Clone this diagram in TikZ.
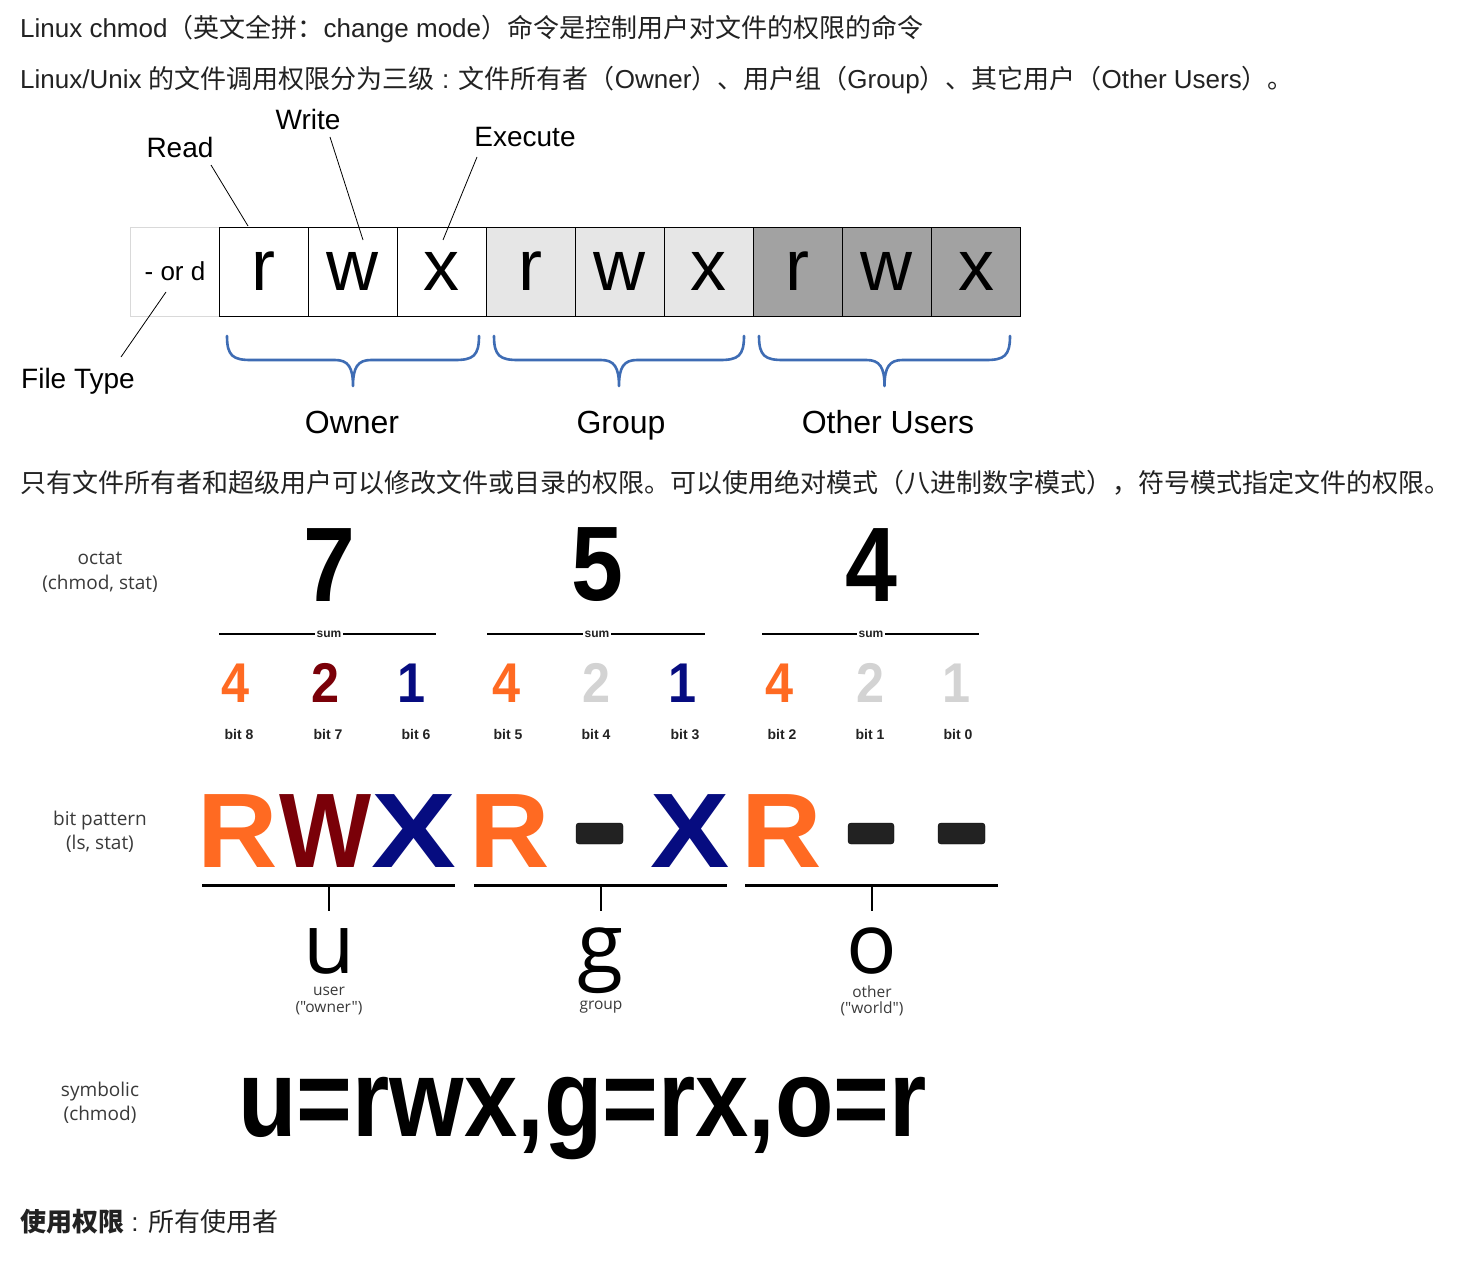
\documentclass[tikz,border=0pt]{standalone}
\usepackage{fontspec}
\setmainfont{Liberation Sans}
\newfontfamily\cjk{Noto Sans CJK SC}
\newfontfamily\osans{Open Sans}
\definecolor{orng}{HTML}{FF6A22}
\definecolor{dred}{HTML}{7A0008}
\definecolor{navyb}{HTML}{060C80}
\definecolor{lgr}{HTML}{D3D3D3}
\definecolor{bracec}{HTML}{3E6CB4}
\definecolor{gcell}{HTML}{E6E6E6}
\definecolor{ocell}{HTML}{A2A2A2}
\definecolor{txt}{HTML}{222222}
\definecolor{lab}{HTML}{3A3A3A}
\tikzset{
  bodytext/.style={anchor=base west,inner sep=0,font=\fontsize{26}{30}\selectfont,text=txt},
  cellbox/.style={draw=black,line width=0.8pt,minimum width=89pt,minimum height=89pt,inner sep=0,font=\fontsize{72}{72}\selectfont},
  dlabel/.style={inner sep=0,font=\fontsize{28}{30}\selectfont},
  glabel/.style={anchor=base,inner sep=0,font=\fontsize{32}{34}\selectfont},
  pointer/.style={line width=0.8pt,black},
  bracestyle/.style={line width=2.6pt,bracec,line cap=round,line join=round},
  sidelab/.style={align=center,inner sep=0,text=lab,font=\osans\fontsize{19}{24.5}\selectfont},
  bigdigit/.style={inner sep=0,font=\bfseries\fontsize{106}{106}\selectfont},
  smalldigit/.style={inner sep=0,font=\bfseries\fontsize{56}{56}\selectfont},
  bitlab/.style={anchor=base,inner sep=0,text=txt,font=\bfseries\fontsize{14}{14}\selectfont},
  sumlab/.style={inner sep=1.5pt,text=txt,font=\bfseries\fontsize{12}{12}\selectfont},
  sumline/.style={line width=2.6pt,black},
  patt/.style={inner sep=0,font=\bfseries\fontsize{106}{106}\selectfont},
  dashbox/.style={fill=txt,rounded corners=3pt},
  ulabel/.style={anchor=base,inner sep=0,text depth=0pt,font=\osans\fontsize{84}{84}\selectfont},
  sublab/.style={align=center,inner sep=0,text=lab,font=\osans\fontsize{15.5}{16.5}\selectfont},
}
\newcommand{\mybrace}[2]{%
  \pgfmathsetmacro{\bm}{(#1+#2)/2}%
  \draw[bracestyle] (#1,336) .. controls (#1,356) and ({#1+6},360) .. ({#1+24},360)
    -- ({\bm-18},360) .. controls ({\bm-5},360) and (\bm,367) .. (\bm,386)
    .. controls (\bm,367) and ({\bm+5},360) .. ({\bm+18},360)
    -- ({#2-24},360) .. controls ({#2-6},360) and (#2,356) .. (#2,336);}
\begin{document}
\begin{tikzpicture}[x=1pt,y=-1pt]
\useasboundingbox[fill=white] (0,0) rectangle (1470,1268);

% top text lines
\node[bodytext] (l1) at (20,38) {Linux chmod{\cjk （英文全拼：}change mode{\cjk ）命令是控制用户对文件的权限的命令}};
\node[bodytext] (l2) at (20,89) {Linux/Unix {\cjk 的文件调用权限分为三级} : {\cjk 文件所有者（}Owner{\cjk ）、用户组（}Group{\cjk ）、其它用户（}Other Users{\cjk ）。}};

% permission cells
\node[cellbox,draw=black!15,font=\fontsize{26}{26}\selectfont] (ft) at (175,271.5) {- or d};
\node[cellbox] (c1) at (263.5,271.5) {r};
\node[cellbox] (c2) at (352.5,271.5) {w};
\node[cellbox] (c3) at (441.5,271.5) {x};
\node[cellbox,fill=gcell] (c4) at (530.5,271.5) {r};
\node[cellbox,fill=gcell] (c5) at (619.5,271.5) {w};
\node[cellbox,fill=gcell] (c6) at (708.5,271.5) {x};
\node[cellbox,fill=ocell] (c7) at (797.5,271.5) {r};
\node[cellbox,fill=ocell] (c8) at (886.5,271.5) {w};
\node[cellbox,fill=ocell] (c9) at (976,271.5) {x};

% labels and pointers
\node[dlabel] (read) at (180,147) {Read};
\node[dlabel] (write) at (308,119) {Write};
\node[dlabel] (exec) at (525,137) {Execute};
\node[dlabel,anchor=base] (ftype) at (78,388) {File Type};
\coordinate (pr1) at (211,165); \coordinate (pr2) at (248,226);
\coordinate (pw1) at (330,137); \coordinate (pw2) at (363,240);
\coordinate (pe1) at (477,157); \coordinate (pe2) at (443,240);
\coordinate (pf1) at (166,292); \coordinate (pf2) at (121,357);
\draw[pointer] (pr1) -- (pr2);
\draw[pointer] (pw1) -- (pw2);
\draw[pointer] (pe1) -- (pe2);
\draw[pointer] (pf1) -- (pf2);

% braces
\mybrace{227}{479}
\mybrace{494}{744}
\mybrace{759}{1010}
\node[glabel] (own) at (352,433) {Owner};
\node[glabel] (grp) at (621,433) {Group};
\node[glabel] (oth) at (888,433) {Other Users};

% middle text
\node[bodytext] (l3) at (20,492) {{\cjk 只有文件所有者和超级用户可以修改文件或目录的权限。可以使用绝对模式（八进制数字模式），符号模式指定文件的权限。}};

% octal section
\node[sidelab] (oct) at (100,572) {octat\\(chmod, stat)};
\node[bigdigit] (d7) at (329,565) {\scalebox{0.88}[1]{7}};
\node[bigdigit] (d5) at (597,565) {\scalebox{0.88}[1]{5}};
\node[bigdigit] (d4) at (871,565) {\scalebox{0.88}[1]{4}};

\node[sumlab] (s1) at (329,634) {sum};
\node[sumlab] (s2) at (597,634) {sum};
\node[sumlab] (s3) at (871,634) {sum};
\coordinate (s1a) at (219,634); \coordinate (s1b) at (436,634);
\coordinate (s2a) at (487,634); \coordinate (s2b) at (705,634);
\coordinate (s3a) at (762,634); \coordinate (s3b) at (979,634);
\draw[sumline] (s1a) -- (s1.west); \draw[sumline] (s1.east) -- (s1b);
\draw[sumline] (s2a) -- (s2.west); \draw[sumline] (s2.east) -- (s2b);
\draw[sumline] (s3a) -- (s3.west); \draw[sumline] (s3.east) -- (s3b);

\node[smalldigit,text=orng] (b8) at (236,683) {\scalebox{0.9}[1]{4}};
\node[smalldigit,text=dred] (b7) at (326,683) {\scalebox{0.9}[1]{2}};
\node[smalldigit,text=navyb] (b6) at (412,683) {\scalebox{0.9}[1]{1}};
\node[smalldigit,text=orng] (b5) at (507,683) {\scalebox{0.9}[1]{4}};
\node[smalldigit,text=lgr] (b4) at (597,683) {\scalebox{0.9}[1]{2}};
\node[smalldigit,text=navyb] (b3) at (683,683) {\scalebox{0.9}[1]{1}};
\node[smalldigit,text=orng] (b2) at (780,683) {\scalebox{0.9}[1]{4}};
\node[smalldigit,text=lgr] (b1) at (871,683) {\scalebox{0.9}[1]{2}};
\node[smalldigit,text=lgr] (b0) at (957,683) {\scalebox{0.9}[1]{1}};

\node[bitlab] (t8) at (239,739) {bit 8};
\node[bitlab] (t7) at (328,739) {bit 7};
\node[bitlab] (t6) at (416,739) {bit 6};
\node[bitlab] (t5) at (508,739) {bit 5};
\node[bitlab] (t4) at (596,739) {bit 4};
\node[bitlab] (t3) at (685,739) {bit 3};
\node[bitlab] (t2) at (782,739) {bit 2};
\node[bitlab] (t1) at (870,739) {bit 1};
\node[bitlab] (t0) at (958,739) {bit 0};

% bit pattern section
\node[sidelab] (bp) at (100,832) {bit pattern\\(ls, stat)};
\node[patt,text=orng] (pR1) at (238,831) {\scalebox{1.05}[1]{R}};
\node[patt,text=dred] (pW1) at (326,831) {\scalebox{0.92}[1]{W}};
\node[patt,text=navyb] (pX1) at (414,831) {\scalebox{1.2}[1]{X}};
\node[patt,text=orng] (pR2) at (510,831) {\scalebox{1.05}[1]{R}};
\filldraw[dashbox] (576,823) rectangle (623,844);
\node[patt,text=navyb] (pX2) at (690,831) {\scalebox{1.12}[1]{X}};
\node[patt,text=orng] (pR3) at (782,831) {\scalebox{1.05}[1]{R}};
\filldraw[dashbox] (848,823) rectangle (894,844);
\filldraw[dashbox] (938,823) rectangle (985,844);

\draw[line width=3pt] (202,885) -- (455,885);
\draw[line width=3pt] (474,885) -- (727,885);
\draw[line width=3pt] (745,885) -- (998,885);
\node[ulabel] (uu) at (329,973) {u};
\node[ulabel] (gg) at (601,973) {g};
\node[ulabel] (oo) at (872,973) {o};
\coordinate (k1) at (329,885); \coordinate (k2) at (601,885); \coordinate (k3) at (872,885);
\draw[line width=2pt] (k1) -- (329,911);
\draw[line width=2pt] (k2) -- (601,911);
\draw[line width=2pt] (k3) -- (872,911);
\node[sublab] (su) at (329,1001) {user\\("owner")};
\node[sublab] (sg) at (601,1007) {group};
\node[sublab] (so) at (872,1001) {other\\("world")};

% symbolic section
\node[sidelab] (sym) at (100,1103) {symbolic\\(chmod)};
\node[anchor=base west,inner sep=0,font=\bfseries\fontsize{110}{110}\selectfont] (symtxt) at (238,1136) {\scalebox{0.87}[1]{u=rwx,g=rx,o=r}};

% bottom line
\node[bodytext] (l4) at (20,1231) {{\cjk\bfseries 使用权限} : {\cjk 所有使用者}};
\end{tikzpicture}
\end{document}
